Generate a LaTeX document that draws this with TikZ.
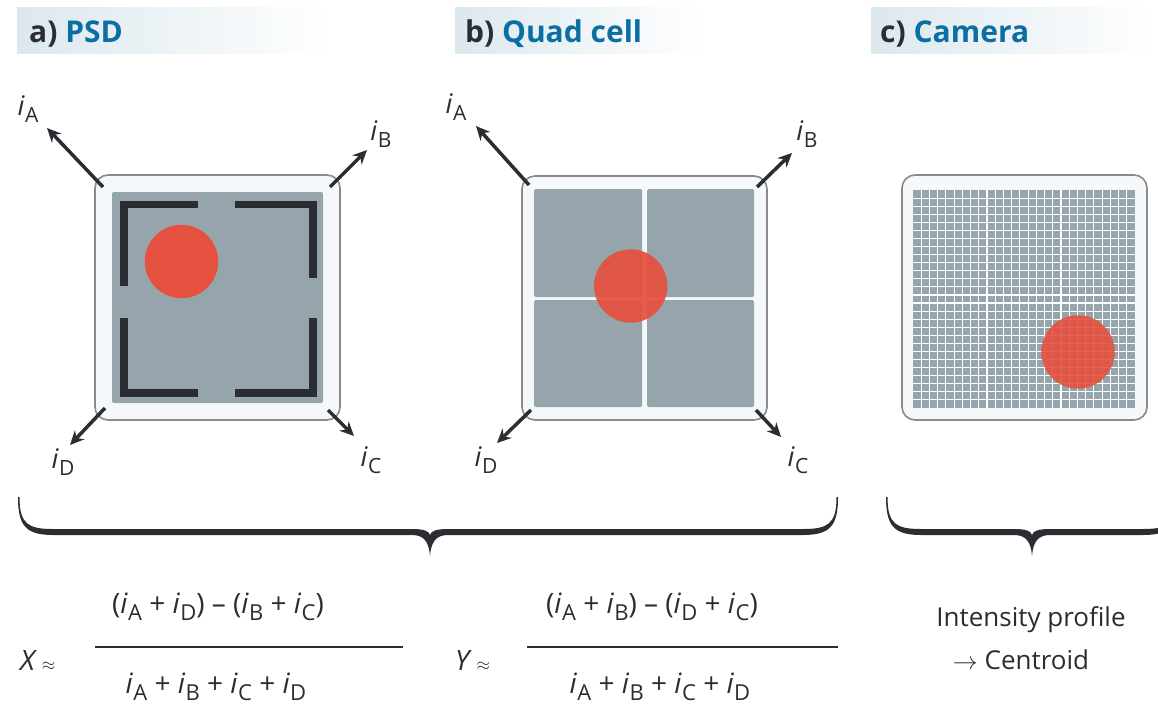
\documentclass[tikz,border=0pt]{standalone}
\usepackage{fontspec}
\setmainfont{Open Sans}
\usetikzlibrary{arrows.meta}
\definecolor{hdrblue}{HTML}{0B6FA4}
\definecolor{dark}{HTML}{2B2D33}
\definecolor{spot}{HTML}{E5503F}
\definecolor{cellgray}{HTML}{95A5AB}
\definecolor{boxfill}{HTML}{F5F8FA}
\definecolor{boxborder}{HTML}{8A8A8A}
\definecolor{hdrbg}{HTML}{DCE8EE}
\def\subfs{18}
\newcommand{\cur}[1]{\textit{i}\kern0.3pt\raisebox{-0.45ex}{\fontsize{\subfs}{\subfs}\selectfont #1}}
\newcommand{\mybrace}[6]{% L R C T B P
  \fill[dark] (#1,#4) .. controls (#1,{#5-6}) and ({#1+8},{#5+3}) .. ({#1+35},{#5+3})
   -- ({#3-18},{#5+3}) .. controls ({#3-6},{#5+3}) and ({#3-1},{#5+10}) .. (#3,#6)
   .. controls ({#3+1},{#5+10}) and ({#3+6},{#5+3}) .. ({#3+18},{#5+3})
   -- ({#2-35},{#5+3}) .. controls ({#2-8},{#5+3}) and (#2,{#5-6}) .. (#2,#4)
   -- ({#2-1.5},#4) .. controls ({#2-1.5},{#5-8}) and ({#2-10},{#5-3}) .. ({#2-35},{#5-3})
   -- ({#3+18},{#5-3}) .. controls ({#3+6},{#5-3}) and ({#3+1},{#5-1}) .. (#3,{#5+3})
   .. controls ({#3-1},{#5-1}) and ({#3-6},{#5-3}) .. ({#3-18},{#5-3})
   -- ({#1+35},{#5-3}) .. controls ({#1+10},{#5-3}) and ({#1+1.5},{#5-8}) .. ({#1+1.5},#4) -- cycle;}
\begin{document}
\begin{tikzpicture}[x=1pt,y=-1pt,
  hdr/.style={anchor=base west,font=\fontsize{30}{30}\selectfont\bfseries,text=hdrblue,inner sep=0},
  outerbox/.style={fill=boxfill,draw=boxborder,line width=1.6pt,rounded corners=13pt},
  cur arrow/.style={draw=dark,line width=3.5pt,-{Stealth[length=14pt,width=13pt]}},
  curlabel/.style={font=\fontsize{27}{27}\selectfont\def\subfs{21},text=dark,inner sep=0},
  formula/.style={font=\fontsize{28}{28}\selectfont\def\subfs{22},text=dark,inner sep=0},
  plain/.style={font=\fontsize{26}{26}\selectfont,text=dark,inner sep=0}]
\useasboundingbox (0,0) rectangle (1158,706);
% headers
\shade[left color=hdrbg,right color=white] (17,8) rectangle (335,54);
\shade[left color=hdrbg,right color=white] (455,8) rectangle (705,54);
\shade[left color=hdrbg,right color=white] (871,8) rectangle (1158,54);
\node[hdr] (ha) at (29,43) {\textcolor{dark}{a)} PSD};
\node[hdr] (hb) at (465,43) {\textcolor{dark}{b)} Quad cell};
\node[hdr] (hc) at (880,43) {\textcolor{dark}{c)} Camera};
% ---------- panel a
\path[outerbox] (95,175) rectangle (340,420);
\fill[cellgray,rounded corners=2pt] (112,192) rectangle (323,403);
\begin{scope}[dark,line width=7.5pt]
\draw (124,286) -- (124,204.5) -- (198,204.5);
\draw (235,204.5) -- (313,204.5) -- (313,278);
\draw (124,318) -- (124,393) -- (198,393);
\draw (235,393) -- (313,393) -- (313,318);
\end{scope}
\fill[spot] (181.5,261.5) circle (36.7);
\coordinate (aA0) at (103,187); \coordinate (aA1) at (47,128);
\coordinate (aB0) at (330,187); \coordinate (aB1) at (367,150);
\coordinate (aD0) at (105,408); \coordinate (aD1) at (70,445);
\coordinate (aC0) at (328,410); \coordinate (aC1) at (354,436);
\draw[cur arrow] (aA0) -- (aA1);
\draw[cur arrow] (aB0) -- (aB1);
\draw[cur arrow] (aD0) -- (aD1);
\draw[cur arrow] (aC0) -- (aC1);
\node[curlabel] (laA) at (28,109) {\cur{A}};
\node[curlabel] (laB) at (381,134) {\cur{B}};
\node[curlabel] (laD) at (63,462) {\cur{D}};
\node[curlabel] (laC) at (371,460) {\cur{C}};
% ---------- panel b
\path[outerbox] (522,176) rectangle (767,420);
\fill[cellgray,rounded corners=1.5pt] (534,189) rectangle (642,297);
\fill[cellgray,rounded corners=1.5pt] (647,189) rectangle (754,297);
\fill[cellgray,rounded corners=1.5pt] (534,300) rectangle (642,407);
\fill[cellgray,rounded corners=1.5pt] (647,300) rectangle (754,407);
\fill[spot,fill opacity=0.93] (630.7,286) circle (36.7);
\coordinate (bA0) at (529,185); \coordinate (bA1) at (476,126);
\coordinate (bB0) at (757,187); \coordinate (bB1) at (792,153);
\coordinate (bD0) at (531,410); \coordinate (bD1) at (497,443);
\coordinate (bC0) at (756,410); \coordinate (bC1) at (781,437);
\draw[cur arrow] (bA0) -- (bA1);
\draw[cur arrow] (bB0) -- (bB1);
\draw[cur arrow] (bD0) -- (bD1);
\draw[cur arrow] (bC0) -- (bC1);
\node[curlabel] (lbA) at (456,107) {\cur{A}};
\node[curlabel] (lbB) at (807,134) {\cur{B}};
\node[curlabel] (lbD) at (486,460) {\cur{D}};
\node[curlabel] (lbC) at (798,460) {\cur{C}};
% ---------- panel c
\path[outerbox] (902,175) rectangle (1147,420);
\fill[cellgray] (913,190) rectangle (1135,408);
\begin{scope}[white,line width=1.1pt]
\foreach \k in {1,...,26} {
  \draw ({913+\k*222/27},190) -- ({913+\k*222/27},408);
  \draw (913,{190+\k*218/27}) -- (1135,{190+\k*218/27});
}
\end{scope}
\fill[spot,fill opacity=0.9] (1078,352) circle (36.7);
% ---------- braces
\mybrace{18}{838}{430}{497}{532}{556}
\begin{scope}
\clip (860,480) rectangle (1158,570);
\mybrace{886}{1178}{1032}{497}{532}{556}
\end{scope}
% ---------- formulas
\node[formula,anchor=west] (X) at (20,660) {\textit{X}\,{\fontsize{18}{18}\selectfont$\approx$}};
\coordinate (xl0) at (95,647); \coordinate (xl1) at (403,647);
\draw[dark,line width=1.8pt] (xl0) -- (xl1);
\node[formula] (xn) at (218,607) {(\cur{A} + \cur{D}) – (\cur{B} + \cur{C})};
\node[formula] (xd) at (216,687) {\cur{A} + \cur{B} + \cur{C} + \cur{D}};
\node[formula,anchor=west] (Y) at (455,660) {\textit{Y}\,{\fontsize{18}{18}\selectfont$\approx$}};
\coordinate (yl0) at (527,647); \coordinate (yl1) at (838,647);
\draw[dark,line width=1.8pt] (yl0) -- (yl1);
\node[formula] (yn) at (652,607) {(\cur{A} + \cur{B}) – (\cur{D} + \cur{C})};
\node[formula] (yd) at (660,687) {\cur{A} + \cur{B} + \cur{C} + \cur{D}};
\node[plain] (ip) at (1031,620) {Intensity profile};
\node[plain] (ce) at (1021,660) {$\rightarrow$ Centroid};
\end{tikzpicture}
\end{document}
